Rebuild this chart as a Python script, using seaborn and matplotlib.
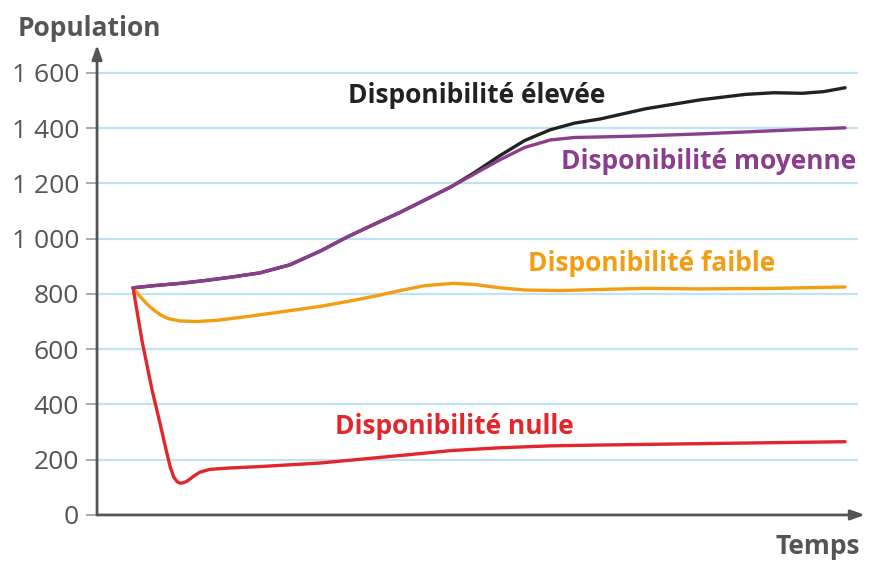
import matplotlib
matplotlib.use("Agg")
import matplotlib.pyplot as plt
import seaborn as sns
import pandas as pd

# ---- data ----
t_elevee = [0, 3, 6.6, 10, 13.6, 17.8, 22, 26.3, 30, 33.7, 37.5, 41, 44.7, 48, 51.5, 55, 58.6, 62, 65.6, 72, 79.6, 86, 90, 94, 97, 100]
v_elevee = [822, 830, 838, 848, 860, 876, 905, 955, 1005, 1050, 1095, 1140, 1188, 1240, 1300, 1355, 1394, 1418, 1433, 1470, 1502, 1522, 1528, 1526, 1532, 1546]

t_moyenne = [0, 3, 6.6, 10, 13.6, 17.8, 22, 26.3, 30, 33.7, 37.5, 41, 44.7, 48, 51.5, 55, 58.6, 62, 65.6, 72, 79.6, 86, 93, 100]
v_moyenne = [822, 830, 838, 848, 860, 876, 905, 955, 1005, 1050, 1095, 1140, 1188, 1235, 1285, 1330, 1357, 1366, 1368, 1372, 1379, 1386, 1394, 1401]

t_faible = [0, 1.0, 2.0, 3.0, 4.0, 5.0, 6.6, 9, 12, 16, 20, 26.3, 30, 34, 37.5, 41, 45, 48, 51.5, 55, 60, 65.6, 72, 79.6, 90, 100]
v_faible = [822, 790, 762, 740, 722, 710, 702, 700, 705, 718, 732, 755, 772, 792, 812, 830, 838, 834, 822, 814, 812, 816, 820, 818, 820, 825]

t_nulle = [0, 1.26, 2.67, 3.8, 4.6, 5.2, 5.7, 6.2, 6.6, 7.0, 7.5, 8.0, 8.6, 9.4, 10.8, 13.6, 17.8, 26.3, 37.5, 44.7, 51.5, 58.6, 65.6, 79.6, 100]
v_nulle = [822, 630, 452, 330, 240, 175, 138, 120, 115, 116, 121, 130, 142, 155, 165, 170, 175, 188, 215, 233, 243, 250, 253, 258, 265]

series_names = ["Disponibilité élevée", "Disponibilité moyenne", "Disponibilité faible", "Disponibilité nulle"]
series_colors = ["#222222", "#8A3E8E", "#F29D12", "#E2262B"]
label_pos_t = [48.2, 80.9, 72.9, 45.1]
label_pos_v = [1517, 1278, 909, 319]

y_ticks = [0, 200, 400, 600, 800, 1000, 1200, 1400, 1600]
y_tick_labels = ["0", "200", "400", "600", "800", "1 000", "1 200", "1 400", "1 600"]

frames = []
for name, t, v in zip(series_names, [t_elevee, t_moyenne, t_faible, t_nulle],
                      [v_elevee, v_moyenne, v_faible, v_nulle]):
    frames.append(pd.DataFrame({"Temps": t, "Population": v, "Série": name}))
df = pd.concat(frames, ignore_index=True)

sns.set_theme(style="white")
plt.rcParams["font.family"] = ["Open Sans", "DejaVu Sans"]
BOLD = ["Open Sans", "DejaVu Sans"]

fig = plt.figure(figsize=(8.83, 5.76), dpi=100)
ax = fig.add_axes([0.1099, 0.106, 0.9796 - 0.1099, 0.922 - 0.106])

xmin, xmax = -5.06, 102.8
ax.set_xlim(xmin, xmax)
ax.set_ylim(0, 1701)

# grid lines
ax.hlines(y_ticks[1:], xmin, 101.8, colors="#BFE3F3", linewidth=1.6, zorder=1)

order = ["Disponibilité élevée", "Disponibilité faible", "Disponibilité nulle", "Disponibilité moyenne"]
pal = dict(zip(series_names, series_colors))
for name in order:
    sub = df[df["Série"] == name]
    sns.lineplot(data=sub, x="Temps", y="Population", color=pal[name],
                 linewidth=2.4, ax=ax, legend=False, zorder=3, sort=False)

for name, c, tx, ty in zip(series_names, series_colors, label_pos_t, label_pos_v):
    ax.text(tx, ty, name, color=c, fontsize=19, fontweight="bold", family=BOLD,
            ha="center", va="center", zorder=4)

for s in ax.spines.values():
    s.set_visible(False)

ax.set_xticks([])
ax.set_yticks(y_ticks)
ax.set_yticklabels(y_tick_labels, fontsize=19, color="#555555")
ax.tick_params(axis="y", length=8, width=1.4, color="#AAAAAA", pad=5, left=True)
ax.set_xlabel("")
ax.set_ylabel("")

axis_col = "#555555"
ax.annotate("", xy=(0, 1.0), xytext=(0, 0), xycoords="axes fraction",
            arrowprops=dict(arrowstyle="-|>,head_length=0.7,head_width=0.25",
                            color=axis_col, lw=2, shrinkA=0, shrinkB=0), zorder=5)
ax.annotate("", xy=(1.0, 0), xytext=(0, 0), xycoords="axes fraction",
            arrowprops=dict(arrowstyle="-|>,head_length=0.7,head_width=0.25",
                            color=axis_col, lw=2, shrinkA=0, shrinkB=0), zorder=5)

fig.text(18 / 883, 1 - 28 / 576, "Population", fontsize=19, fontweight="bold", family=BOLD,
         color="#555555", ha="left", va="center")
fig.text(860 / 883, 1 - 547 / 576, "Temps", fontsize=19, fontweight="bold", family=BOLD,
         color="#555555", ha="right", va="center")

fig.savefig("out.png", dpi=100)
